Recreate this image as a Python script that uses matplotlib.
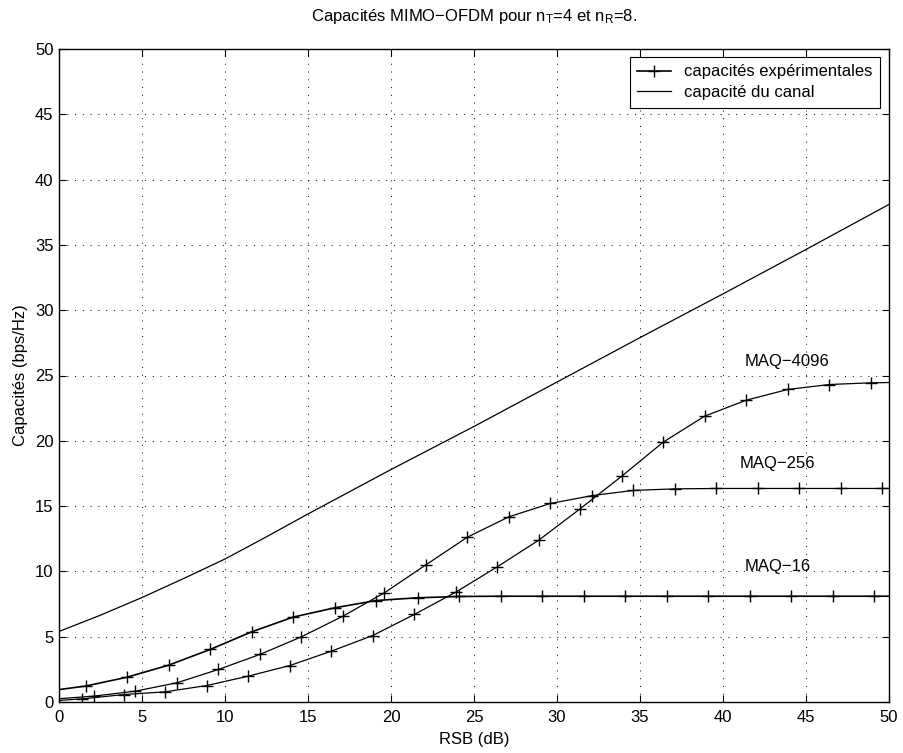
import matplotlib

matplotlib.use("Agg")
import matplotlib.pyplot as plt

# RSB (dB) / capacités (bps/Hz)
snr_canal = [0, 2.5, 5, 7.5, 10, 12.5, 15, 20, 25, 30, 35, 40, 45, 50]
cap_canal = [5.4, 6.65, 8.0, 9.45, 10.95, 12.65, 14.4, 17.8, 21.1, 24.5, 27.9, 31.25, 34.65, 38.1]

snr_maq16 = [0, 1.6, 4.1, 6.6, 9.1, 11.6, 14.1, 16.6, 19.1, 21.6, 24.1, 26.6,
             29.1, 31.6, 34.1, 36.6, 39.1, 41.6, 44.1, 46.6, 49.1, 50]
cap_maq16 = [0.95, 1.22, 1.90, 2.82, 4.02, 5.37, 6.50, 7.21, 7.77, 7.98, 8.08, 8.10,
             8.10, 8.10, 8.10, 8.10, 8.10, 8.10, 8.10, 8.10, 8.10, 8.10]

snr_maq256 = [0, 2.1, 4.6, 7.1, 9.6, 12.1, 14.6, 17.1, 19.6, 22.1, 24.6, 27.1,
              29.6, 32.1, 34.6, 37.1, 39.6, 42.1, 44.6, 47.1, 49.6, 50]
cap_maq256 = [0.25, 0.45, 0.83, 1.47, 2.49, 3.64, 4.99, 6.57, 8.36, 10.5, 12.62, 14.18,
              15.2, 15.8, 16.2, 16.32, 16.35, 16.35, 16.35, 16.35, 16.35, 16.35]

snr_maq4096 = [0, 1.4, 3.9, 6.4, 8.9, 11.4, 13.9, 16.4, 18.9, 21.4, 23.9, 26.4,
               28.9, 31.4, 33.9, 36.4, 38.9, 41.4, 43.9, 46.4, 48.9, 50]
cap_maq4096 = [0.12, 0.24, 0.57, 0.78, 1.26, 1.98, 2.79, 3.89, 5.09, 6.70, 8.41, 10.35,
               12.39, 14.8, 17.29, 19.9, 21.89, 23.11, 23.93, 24.31, 24.44, 24.46]

labels_maq = ["MAQ−4096", "MAQ−256", "MAQ−16"]
label_x = [41.3, 41.0, 41.3]
label_y = [26.1, 18.3, 10.35]

plt.rcParams["font.family"] = ["Liberation Sans", "DejaVu Sans"]
plt.rcParams["mathtext.default"] = "regular"
plt.rcParams["font.size"] = 12

fig = plt.figure(figsize=(9.04, 7.53), dpi=100)
ax = fig.add_axes([59 / 904, 1 - 702 / 753, 830 / 904, 653 / 753])

mk = dict(marker="+", markersize=8, markeredgewidth=1.0, color="black",
          markevery=slice(1, -1))
ax.plot(snr_maq16, cap_maq16, lw=1.2, label="capacités expérimentales", **mk)
ax.plot(snr_maq256, cap_maq256, lw=0.9, **mk)
ax.plot(snr_maq4096, cap_maq4096, lw=0.9, **mk)
ax.plot(snr_canal, cap_canal, color="black", lw=0.9, label="capacité du canal")

for txt, xx, yy in zip(labels_maq, label_x, label_y):
    ax.text(xx, yy, txt, ha="left", va="center", fontsize=12)

ax.set_xlim(0, 50)
ax.set_ylim(0, 50)
ax.set_xticks(range(0, 51, 5))
ax.set_yticks(range(0, 51, 5))
ax.tick_params(direction="in", top=True, right=True, length=5, width=0.8,
               labelsize=12)
ax.tick_params(axis="x", pad=6)
ax.tick_params(axis="y", pad=4)
ax.grid(True, color="black", linestyle=(0, (1, 7)), linewidth=0.7)
for s in ax.spines.values():
    s.set_linewidth(1.0)

ax.set_xlabel("RSB (dB)", labelpad=5)
ax.set_ylabel("Capacités (bps/Hz)", labelpad=5)
ax.set_title("Capacités MIMO−OFDM pour n$_T$=4 et n$_R$=8.", pad=20, fontsize=12)

leg = ax.legend(loc="upper right", bbox_to_anchor=(0.989, 0.988), borderaxespad=0,
                fancybox=False, framealpha=1, edgecolor="black", handlelength=2.0,
                borderpad=0.45, labelspacing=0.35, fontsize=12)
leg.get_frame().set_linewidth(0.8)

fig.savefig("out.png", dpi=100)
